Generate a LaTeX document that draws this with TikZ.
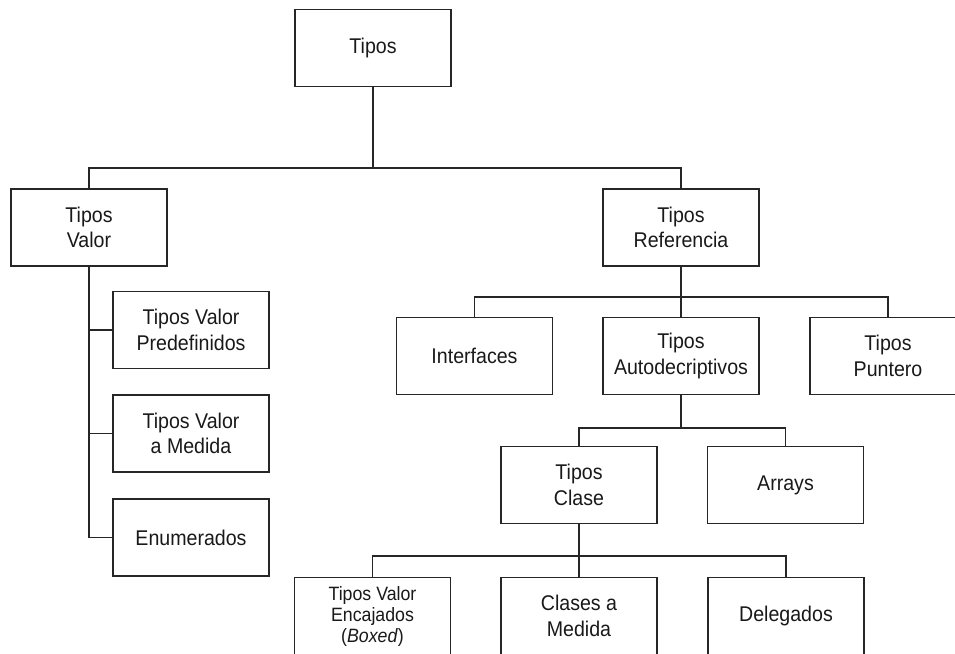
\documentclass[tikz,border=0pt]{standalone}
\usepackage{fontspec}
\setmainfont{Liberation Sans}[FakeStretch=0.92]
\begin{document}
\begin{tikzpicture}[x=1pt,y=-1pt,
  typebox/.style={draw=black!85, line width=1.4pt, fill=white,
    minimum width=156pt, minimum height=77pt, inner sep=0pt,
    align=center, text=black!90,
    font=\fontsize{21.3}{25.7}\selectfont},
  smallbox/.style={typebox, font=\fontsize{19.3}{21}\selectfont},
  link/.style={draw=black!85, line width=1.4pt}]
  \clip (0,0) rectangle (955,653);
  \fill[white] (0,0) rectangle (955,653);

  % root and first level
  \node[typebox] (tipos) at (373,48) {Tipos};
  \node[typebox] (valor) at (89,227.5) {Tipos\\Valor};
  \node[typebox] (ref)   at (681,227.5) {Tipos\\Referencia};

  % value types
  \node[typebox] (pre) at (191,330) {Tipos Valor\\Predefinidos};
  \node[typebox] (med) at (191,433.5) {Tipos Valor\\a Medida};
  \node[typebox] (enu) at (191,537.5) {Enumerados};

  % reference types
  \node[typebox] (intf)  at (474.5,356) {Interfaces};
  \node[typebox] (auto)  at (681,356) {Tipos\\Autodecriptivos};
  \node[typebox] (punt)  at (888,356) {Tipos\\Puntero};

  % self-describing types
  \node[typebox] (clase) at (579,485) {Tipos\\Clase};
  \node[typebox] (arr)   at (785.5,485) {Arrays};

  % class types
  \node[smallbox] (boxed) at (372.5,616) {Tipos Valor\\Encajados\\(\textit{Boxed})};
  \node[typebox]  (cmed)  at (579,616) {Clases a\\Medida};
  \node[typebox]  (deleg) at (786,616) {Delegados};

  % bus junctions
  \coordinate (b1) at (373,168);
  \coordinate (b2) at (681,297);
  \coordinate (b3) at (681,428);
  \coordinate (b4) at (579,556);

  \path[link] (tipos.south) -- (b1);
  \path[link] (valor.north) |- (b1) -| (ref.north);

  \path[link] (ref.south) -- (auto.north);
  \path[link] (intf.north) |- (b2) -| (punt.north);

  \path[link] (auto.south) -- (b3);
  \path[link] (clase.north) |- (b3) -| (arr.north);

  \path[link] (clase.south) -- (cmed.north);
  \path[link] (boxed.north) |- (b4) -| (deleg.north);

  \path[link] (valor.south) |- (enu.west);
  \path[link] (pre.west) -- (pre.west -| valor.south);
  \path[link] (med.west) -- (med.west -| valor.south);
\end{tikzpicture}
\end{document}
